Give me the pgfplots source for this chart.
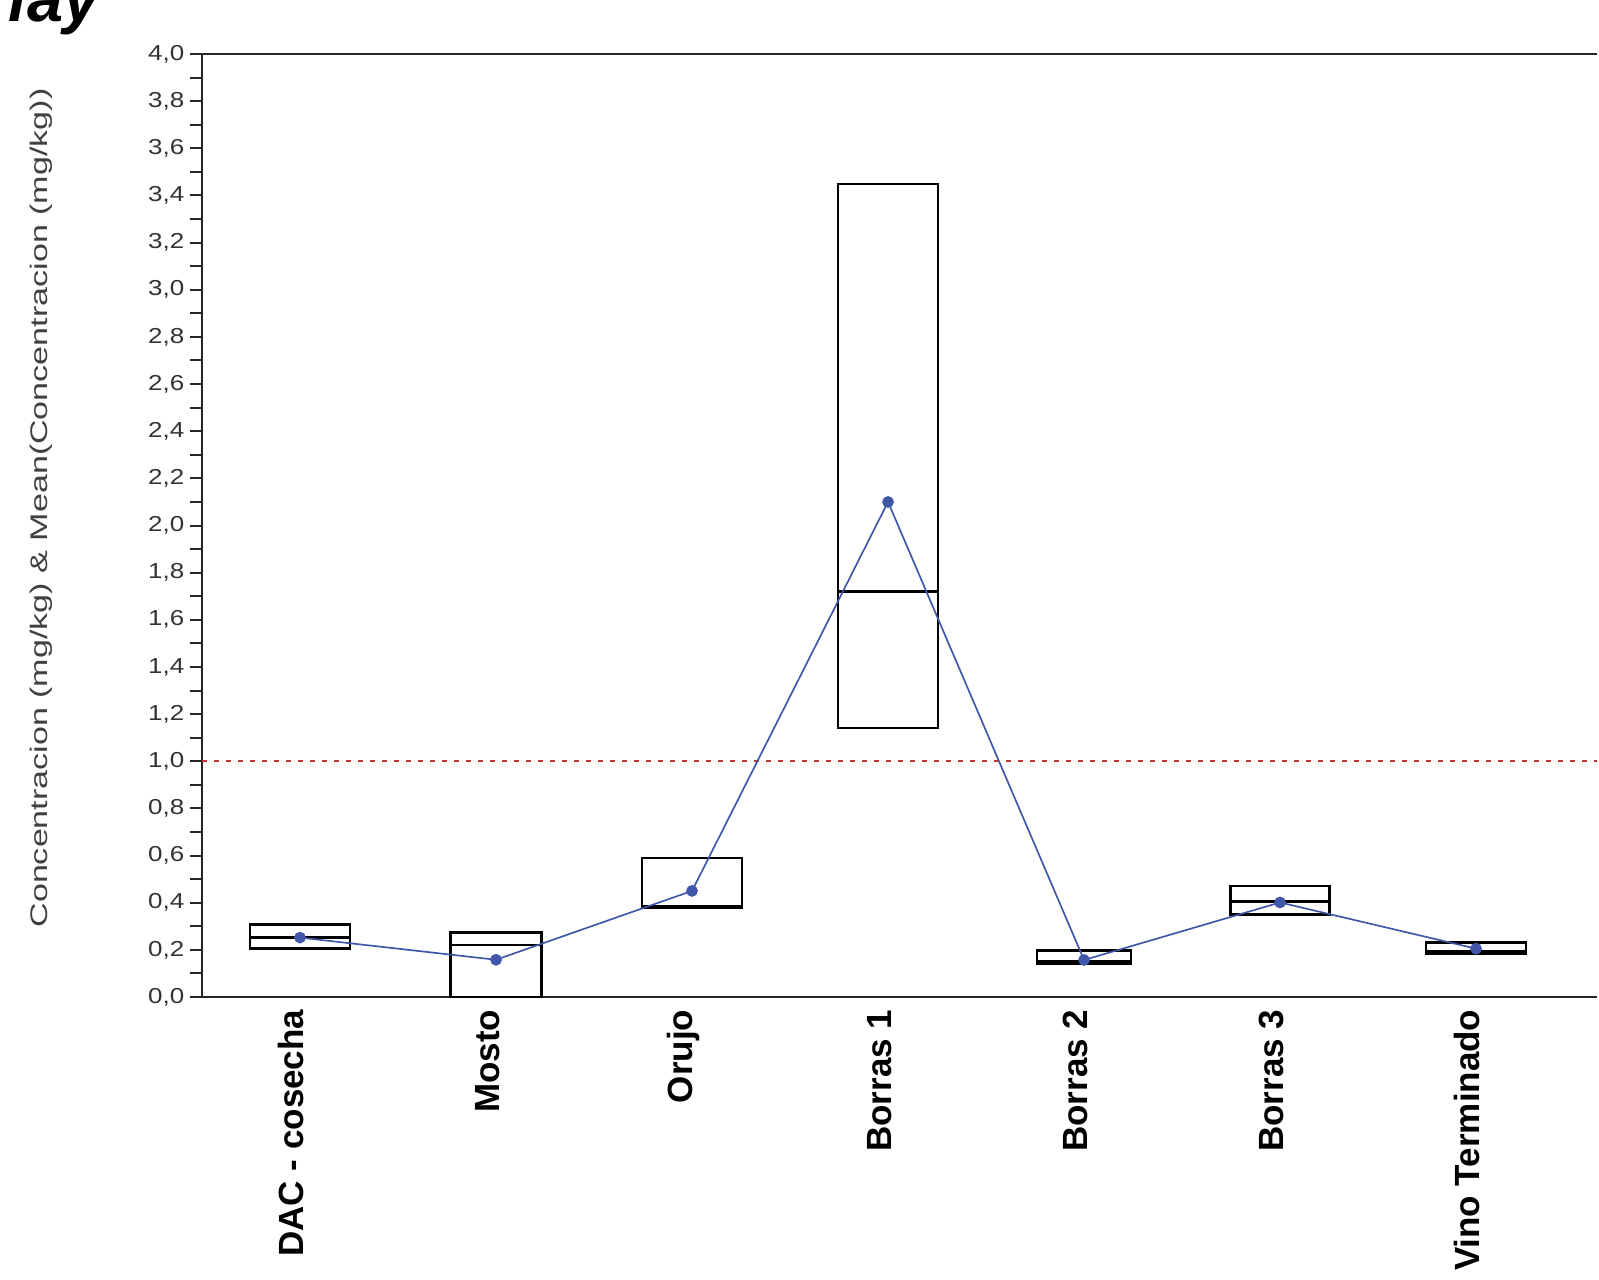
\documentclass[border=0pt]{standalone}
\usepackage{fontspec}
\setmainfont{Liberation Sans}
\newfontfamily\tickfont{Liberation Sans}[FakeStretch=1.2]
\newfontfamily\ylabfont{Liberation Sans}[FakeStretch=1.42]
\usepackage{pgfplots}
\pgfplotsset{compat=1.18}
\usepgfplotslibrary{statistics}
\definecolor{meanblue}{RGB}{64,86,168}
\definecolor{refred}{RGB}{200,50,40}

\begin{document}
\begin{tikzpicture}[x=1pt,y=1pt]
\useasboundingbox (-60.6,-84.6) rectangle (419.1,299.1);
\clip (-60.6,-84.6) rectangle (419.1,299.1);
\node[rotate=90, font=\ylabfont\fontsize{7.2}{8}\selectfont, text=black!75] at (-48.3,146.7) {Concentracion (mg/kg) \& Mean(Concentracion (mg/kg))};
\node[anchor=base east, inner sep=0pt, font=\fontsize{19.5}{20}\selectfont\bfseries\itshape] at (-30.6,292.5) {Overlay};
\begin{axis}[
  at={(0,0)}, anchor=south west, scale only axis,
  width=418.5pt, height=282.9pt,
  xmin=-0.5, xmax=6.617, ymin=0, ymax=4,
  axis y line*=left,
  axis line style={line width=0.6pt, black!85, -},
  xtick={0,1,2,3,4,5,6},
  xticklabels={DAC - cosecha, Mosto, Orujo, Borras 1, Borras 2, Borras 3, Vino Terminado},
  xticklabel style={rotate=90, anchor=east, inner sep=0pt, yshift=2.65pt, font=\fontsize{10.5}{12}\selectfont\bfseries},
  xtick pos=bottom, ytick pos=left,
  major x tick style={draw=none},
  ytick distance=0.2, minor y tick num=1,
  tick align=outside,
  major tick length=3.6pt, minor tick length=3.6pt,
  tick style={line width=0.6pt, black!85},
  /pgf/number format/assume math mode=true,
  yticklabel style={font=\tickfont\fontsize{6.5}{7}\selectfont, text=black!80, xshift=1.8pt,
    /pgf/number format/.cd, use comma, fixed, fixed zerofill, precision=1},
  boxplot/draw direction=y,
]
\addplot[refred, line width=0.6pt, dash pattern=on 1.5pt off 2.1pt] coordinates {(-0.5,1) (6.617,1)};

\addplot[black, line width=0.7pt, solid, boxplot/draw direction=y, boxplot prepared={draw position=0, lower whisker=0.206, lower quartile=0.206, median=0.252, upper quartile=0.307, upper whisker=0.307, box extend=0.51, whisker extend=0}] coordinates {};
\addplot[black, line width=0.7pt, solid, boxplot/draw direction=y, boxplot prepared={draw position=1, lower whisker=0.0, lower quartile=0.0, median=0.22, upper quartile=0.274, upper whisker=0.274, box extend=0.465, whisker extend=0}] coordinates {};
\addplot[black, line width=0.7pt, solid, boxplot/draw direction=y, boxplot prepared={draw position=2, lower whisker=0.378, lower quartile=0.378, median=0.386, upper quartile=0.59, upper whisker=0.59, box extend=0.51, whisker extend=0}] coordinates {};
\addplot[black, line width=0.7pt, solid, boxplot/draw direction=y, boxplot prepared={draw position=3, lower whisker=1.14, lower quartile=1.14, median=1.72, upper quartile=3.45, upper whisker=3.45, box extend=0.51, whisker extend=0}] coordinates {};
\addplot[black, line width=0.7pt, solid, boxplot/draw direction=y, boxplot prepared={draw position=4, lower whisker=0.142, lower quartile=0.142, median=0.152, upper quartile=0.197, upper whisker=0.197, box extend=0.48, whisker extend=0}] coordinates {};
\addplot[black, line width=0.7pt, solid, boxplot/draw direction=y, boxplot prepared={draw position=5, lower whisker=0.35, lower quartile=0.35, median=0.405, upper quartile=0.47, upper whisker=0.47, box extend=0.505, whisker extend=0}] coordinates {};
\addplot[black, line width=0.7pt, solid, boxplot/draw direction=y, boxplot prepared={draw position=6, lower whisker=0.185, lower quartile=0.185, median=0.193, upper quartile=0.231, upper whisker=0.231, box extend=0.51, whisker extend=0}] coordinates {};

\addplot[meanblue, line width=0.5pt, mark=*, mark size=1.5pt, mark options={fill=meanblue, draw=meanblue}] coordinates {(0,0.252) (1,0.158) (2,0.45) (3,2.10) (4,0.157) (5,0.401) (6,0.205)};
\end{axis}
\end{tikzpicture}
\end{document}
